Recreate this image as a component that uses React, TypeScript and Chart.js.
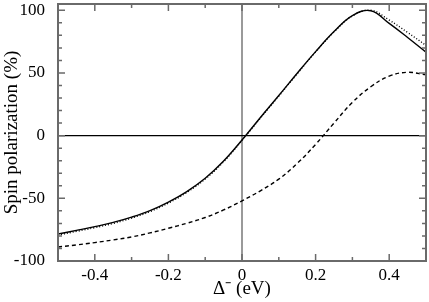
import React, { useEffect, useRef } from "react";
import { Chart, registerables } from "chart.js";

Chart.register(...registerables);

const xValues = [-0.5, -0.45, -0.4, -0.35, -0.3, -0.25, -0.2, -0.15, -0.1, -0.05, 0, 0.05, 0.1, 0.15, 0.2, 0.25, 0.3, 0.35, 0.4, 0.45, 0.5];
const solidSeries = [-78.5, -75.6, -72.6, -69.2, -65.0, -59.8, -53.0, -44.6, -34.0, -20.3, -3.5, 14.5, 32.0, 49.8, 67.0, 83.0, 95.8, 99.6, 89.5, 78.3, 66.6];
const dottedSeries = [-79.3, -76.4, -73.4, -70.0, -65.8, -60.6, -53.8, -45.3, -34.6, -20.8, -3.8, 14.0, 31.6, 49.4, 66.7, 82.7, 95.5, 100.0, 92.2, 82.3, 72.0];
const dashedSeries = [-88.8, -87.2, -85.3, -83.2, -80.8, -77.6, -73.9, -69.9, -65.3, -59.3, -52.0, -44.0, -34.7, -22.2, -7.0, 10.0, 26.5, 39.0, 47.5, 50.5, 48.5];

const xTickValues = [-0.4, -0.2, 0, 0.2, 0.4];
const xMinorValues = [-0.5, -0.3, -0.1, 0.1, 0.3, 0.5];
const yTickValues = [-100, -50, 0, 50, 100];
const yMinorValues = [-90, -80, -70, -60, -40, -30, -20, -10, 10, 20, 30, 40, 60, 70, 80, 90];

const xTitle = "\u0394\u207B (eV)";
const yTitle = "Spin polarization (%)";

const FONT = "'Liberation Serif', 'Times New Roman', serif";

const framePlugin = {
  id: "framePlugin",
  beforeDatasetsDraw(chart: any) {
    const { ctx, chartArea, scales } = chart;
    const xs = scales.x;
    const ys = scales.y;
    ctx.save();
    const x0 = xs.getPixelForValue(0);
    const y0 = ys.getPixelForValue(0);
    ctx.strokeStyle = "#9a9a9a";
    ctx.lineWidth = 2;
    ctx.beginPath();
    ctx.moveTo(x0, chartArea.top);
    ctx.lineTo(x0, chartArea.bottom);
    ctx.stroke();
    ctx.strokeStyle = "#000";
    ctx.lineWidth = 1.3;
    ctx.beginPath();
    ctx.moveTo(chartArea.left, y0);
    ctx.lineTo(chartArea.right, y0);
    ctx.stroke();
    ctx.restore();
  },
  afterDatasetsDraw(chart: any) {
    const { ctx, chartArea, scales } = chart;
    const xs = scales.x;
    const ys = scales.y;
    const { left, right, top, bottom } = chartArea;
    ctx.save();
    ctx.strokeStyle = "#6a6a6a";
    ctx.lineWidth = 1.5;
    ctx.beginPath();
    const drawX = (v: number, len: number) => {
      const p = xs.getPixelForValue(v);
      ctx.moveTo(p, bottom);
      ctx.lineTo(p, bottom - len);
      ctx.moveTo(p, top);
      ctx.lineTo(p, top + len);
    };
    const drawY = (v: number, len: number) => {
      const p = ys.getPixelForValue(v);
      ctx.moveTo(left, p);
      ctx.lineTo(left + len, p);
      ctx.moveTo(right, p);
      ctx.lineTo(right - len, p);
    };
    xTickValues.forEach((v) => drawX(v, 7));
    xMinorValues.forEach((v) => drawX(v, 4));
    yTickValues.forEach((v) => drawY(v, 7));
    yMinorValues.forEach((v) => drawY(v, 4));
    ctx.stroke();
    ctx.lineWidth = 2;
    ctx.strokeRect(left, top, right - left, bottom - top);
    ctx.restore();
  },
};

function toPoints(ys: number[]) {
  return xValues.map((x, i) => ({ x, y: ys[i] }));
}

function zeroPad(s: any) {
  s.paddingTop = 0;
  s.paddingBottom = 0;
  s.paddingLeft = 0;
  s.paddingRight = 0;
}

export default function App() {
  const canvasRef = useRef<HTMLCanvasElement | null>(null);

  useEffect(() => {
    if (!canvasRef.current) return;
    const lineBase = { borderColor: "#000", borderWidth: 1.4, pointRadius: 0, tension: 0.4 };
    const chart = new Chart(canvasRef.current, {
      type: "line",
      data: {
        datasets: [
          { ...lineBase, data: toPoints(dashedSeries), borderDash: [4, 3] },
          { ...lineBase, data: toPoints(dottedSeries), borderDash: [1, 2] },
          { ...lineBase, data: toPoints(solidSeries) },
        ],
      },
      options: {
        animation: false,
        responsive: false,
        maintainAspectRatio: false,
        layout: { padding: { top: 4, right: 3, left: 0, bottom: 0 } },
        plugins: { legend: { display: false }, tooltip: { enabled: false } },
        scales: {
          x: {
            type: "linear",
            min: -0.5,
            max: 0.5,
            grid: { display: false },
            border: { display: false },
            afterBuildTicks: (s: any) => {
              s.ticks = xTickValues.map((v) => ({ value: v }));
            },
            afterFit: (s: any) => {
              s.height = 41;
              zeroPad(s);
            },
            ticks: {
              color: "#000",
              padding: -4,
              font: { family: FONT, size: 17 },
              maxRotation: 0,
              callback: (v: any) => String(v),
            },
            title: {
              display: true,
              text: xTitle,
              color: "#000",
              font: { family: FONT, size: 19 },
              padding: { top: 0, bottom: 2 },
            },
          },
          y: {
            type: "linear",
            min: -100,
            max: 105,
            grid: { display: false },
            border: { display: false },
            afterBuildTicks: (s: any) => {
              s.ticks = yTickValues.map((v) => ({ value: v }));
            },
            afterFit: (s: any) => {
              s.width = 58;
              zeroPad(s);
            },
            ticks: {
              color: "#000",
              padding: 5,
              font: { family: FONT, size: 17 },
              callback: (v: any) => String(v),
            },
            title: {
              display: true,
              text: yTitle,
              color: "#000",
              font: { family: FONT, size: 19 },
              padding: { top: 1, bottom: 0 },
            },
          },
        },
      },
      plugins: [framePlugin],
    });
    return () => chart.destroy();
  }, []);

  return (
    <div style={{ position: "absolute", left: 0, top: 0, width: 429, height: 302, background: "#fff" }}>
      <canvas ref={canvasRef} width={429} height={302} style={{ width: 429, height: 302, display: "block" }} />
    </div>
  );
}
